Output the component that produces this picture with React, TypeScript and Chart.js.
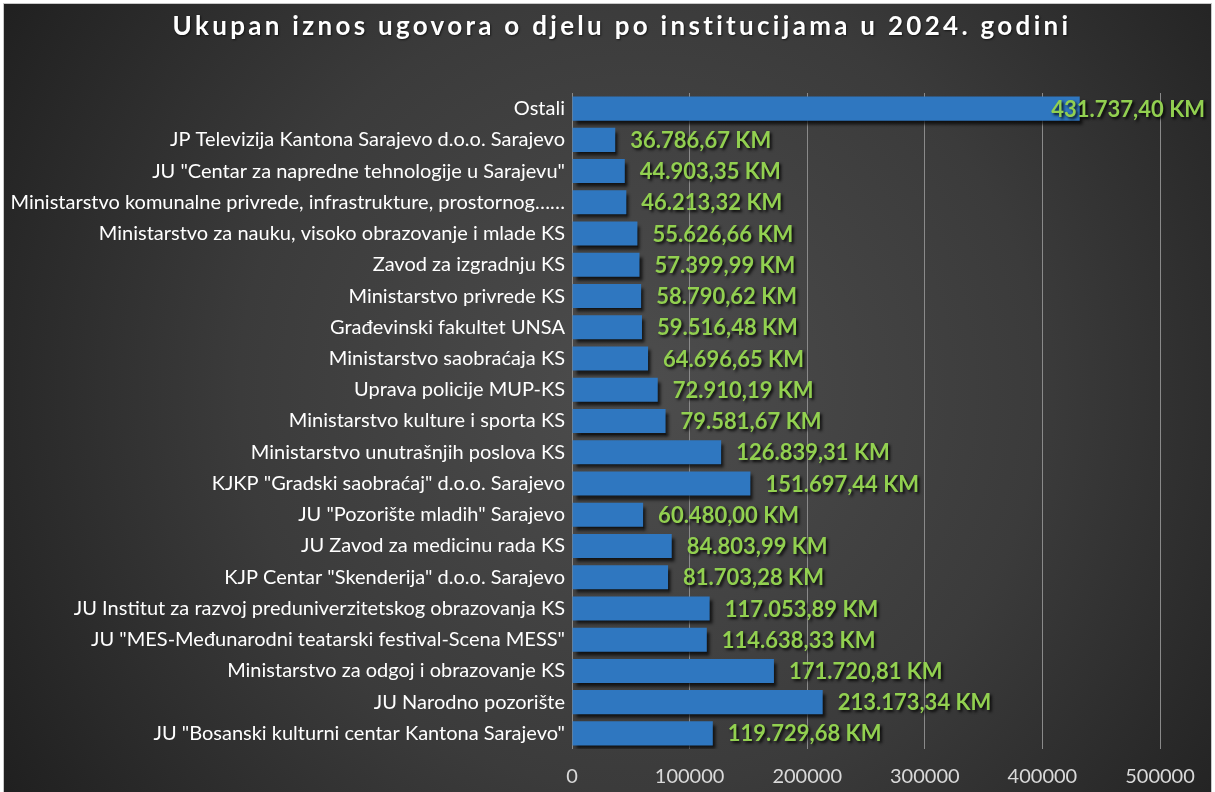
import React, { useEffect, useRef } from "react";
import { Chart, registerables } from "chart.js";

Chart.register(...registerables);

const TITLE = "Ukupan iznos ugovora o djelu po institucijama u 2024. godini";

const CATEGORIES: string[] = [
  "Ostali",
  "JP Televizija Kantona Sarajevo d.o.o. Sarajevo",
  "JU \"Centar za napredne tehnologije u Sarajevu\"",
  "Ministarstvo komunalne privrede, infrastrukture, prostornog……",
  "Ministarstvo za nauku, visoko obrazovanje i mlade KS",
  "Zavod za izgradnju KS",
  "Ministarstvo privrede KS",
  "Građevinski fakultet UNSA",
  "Ministarstvo saobraćaja KS",
  "Uprava policije MUP-KS",
  "Ministarstvo kulture i sporta KS",
  "Ministarstvo unutrašnjih poslova KS",
  "KJKP \"Gradski saobraćaj\" d.o.o. Sarajevo",
  "JU \"Pozorište mladih\" Sarajevo",
  "JU Zavod za medicinu rada KS",
  "KJP Centar \"Skenderija\" d.o.o. Sarajevo",
  "JU Institut za razvoj preduniverzitetskog obrazovanja KS",
  "JU \"MES-Međunarodni teatarski festival-Scena MESS\"",
  "Ministarstvo za odgoj i obrazovanje KS",
  "JU Narodno pozorište",
  "JU \"Bosanski kulturni centar Kantona Sarajevo\"",
];

const VALUES: number[] = [
  431737.4, 36786.67, 44903.35, 46213.32, 55626.66, 57399.99, 58790.62,
  59516.48, 64696.65, 72910.19, 79581.67, 126839.31, 151697.44, 60480.0,
  84803.99, 81703.28, 117053.89, 114638.33, 171720.81, 213173.34, 119729.68,
];

const X_MIN = 0;
const X_MAX = 500000;
const X_STEP = 100000;

const W = 1215;
const H = 792;

function fmtKM(v: number): string {
  const [i, d] = v.toFixed(2).split(".");
  const withDots = i.replace(/\B(?=(\d{3})+(?!\d))/g, ".");
  return `${withDots},${d} KM`;
}

const bgPlugin = {
  id: "bg",
  beforeDraw(chart: any) {
    const ctx = chart.ctx as CanvasRenderingContext2D;
    ctx.save();
    ctx.fillStyle = "#ffffff";
    ctx.fillRect(0, 0, W, H);
    const g = ctx.createRadialGradient(640, 390, 0, 640, 390, 800);
    g.addColorStop(0, "#4d4d4d");
    g.addColorStop(0.5, "#3b3b3b");
    g.addColorStop(1, "#1c1c1c");
    ctx.fillStyle = g;
    ctx.fillRect(3, 3, 1209, H);
    ctx.strokeStyle = "#c8c8c8";
    ctx.lineWidth = 1;
    ctx.strokeRect(3.5, 3.5, 1208, H + 10);
    ctx.restore();
  },
  afterDraw(chart: any) {
    const ctx = chart.ctx as CanvasRenderingContext2D;
    ctx.save();
    (ctx as any).letterSpacing = "3.3px";
    ctx.font = "bold 26px Lato";
    ctx.fillStyle = "#ffffff";
    ctx.textAlign = "center";
    ctx.textBaseline = "middle";
    ctx.shadowColor = "rgba(0,0,0,0.6)";
    ctx.shadowOffsetX = 1;
    ctx.shadowOffsetY = 1;
    ctx.shadowBlur = 2;
    ctx.fillText(TITLE, 622, 27);
    ctx.restore();
  },
};

const shadowPlugin = {
  id: "barShadow",
  beforeDatasetsDraw(chart: any) {
    const ctx = chart.ctx as CanvasRenderingContext2D;
    ctx.save();
    ctx.shadowColor = "rgba(0,0,0,0.7)";
    ctx.shadowOffsetX = 3;
    ctx.shadowOffsetY = 4;
    ctx.shadowBlur = 3;
  },
  afterDatasetsDraw(chart: any) {
    const ctx = chart.ctx as CanvasRenderingContext2D;
    ctx.restore();
    const meta = chart.getDatasetMeta(0);
    ctx.save();
    ctx.font = "bold 22px Lato";
    ctx.textAlign = "left";
    ctx.textBaseline = "middle";
    ctx.fillStyle = "#92d050";
    ctx.shadowColor = "rgba(0,0,0,0.85)";
    ctx.shadowOffsetX = 2;
    ctx.shadowOffsetY = 2;
    ctx.shadowBlur = 3;
    meta.data.forEach((bar: any, i: number) => {
      const text = fmtKM(VALUES[i]);
      const tw = ctx.measureText(text).width;
      let x = bar.x + 15;
      if (x + tw > W - 10) x = W - 10 - tw;
      ctx.fillText(text, x, bar.y + 1);
    });
    ctx.restore();
  },
};

export default function App() {
  const ref = useRef<HTMLCanvasElement | null>(null);

  useEffect(() => {
    document.body.style.margin = "0";
    const canvas = ref.current;
    if (!canvas) return;
    const chart = new Chart(canvas, {
      type: "bar",
      data: {
        labels: CATEGORIES,
        datasets: [
          {
            data: VALUES,
            backgroundColor: "#2f77c0",
            borderWidth: 0,
            categoryPercentage: 1,
            barPercentage: 0.77,
          },
        ],
      },
      options: {
        indexAxis: "y",
        responsive: false,
        animation: false,
        layout: { padding: { top: 93, right: 55, left: 0, bottom: 0 } },
        plugins: {
          legend: { display: false },
          title: { display: false },
          tooltip: { enabled: false },
        },
        scales: {
          x: {
            min: X_MIN,
            max: X_MAX,
            ticks: {
              stepSize: X_STEP,
              color: "#d9d9d9",
              font: { family: "Lato", size: 20 },
              padding: 16,
              maxRotation: 0,
              callback: (v: any) => String(v),
            },
            grid: { color: "#8a8a8a", lineWidth: 1, drawTicks: false },
            border: { display: false },
            afterFit: (s: any) => {
              s.height = 43;
            },
          },
          y: {
            ticks: {
              color: "#ffffff",
              font: { family: "Lato", size: 20 },
              padding: 7,
              autoSkip: false,
            },
            grid: { display: false, drawTicks: false },
            border: { display: false },
            afterFit: (s: any) => {
              s.width = 572;
            },
          },
        },
      },
      plugins: [bgPlugin, shadowPlugin],
    });
    return () => chart.destroy();
  }, []);

  return (
    <div style={{ width: W, height: H, overflow: "hidden" }}>
      <canvas ref={ref} width={W} height={H} style={{ display: "block" }} />
    </div>
  );
}
